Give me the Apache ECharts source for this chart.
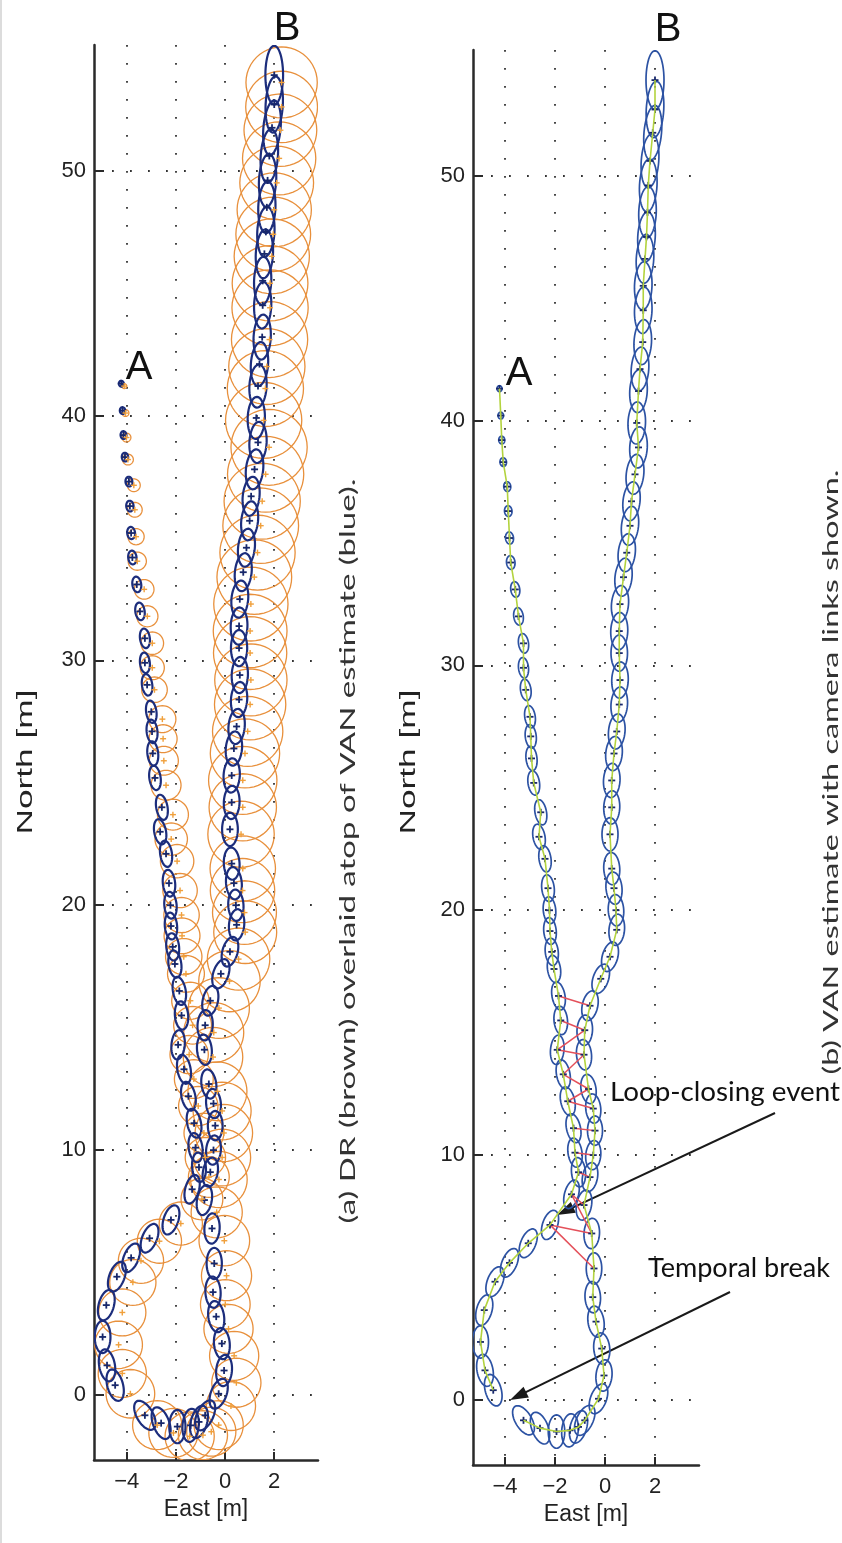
<!DOCTYPE html>
<html><head><meta charset="utf-8">
<script src="https://cdn.jsdelivr.net/npm/echarts@6/dist/echarts.min.js"></script>
<style>html,body{margin:0;padding:0;background:#fff}#c{width:842px;height:1543px}</style>
</head><body><div id="c"></div>
<script>
// ---- VAN estimate (path from A, south, loop, then north to B) ----
const vanX = [-4.22,-4.17,-4.13,-4.07,-3.91,-3.87,-3.82,-3.77,-3.59,-3.46,
 -3.26,-3.26,-3.17,-3.00,-2.97,-2.94,-2.85,-2.57,-2.64,-2.40,
 -2.28,-2.22,-2.20,-2.13,-2.04,-1.86,-1.77,-1.91,-1.67,-1.49,
 -1.26,-1.20,-1.06,-1.34,-2.20,-3.07,-3.82,-4.40,-4.83,-4.98,
 -4.80,-4.47,-3.26,-2.60,-1.94,-1.40,-1.06,-0.81,-0.26,-0.04,
 -0.13,-0.36,-0.49,-0.44,-0.53,-0.84,-0.60,-0.47,-0.40,-0.47,
 -0.66,-0.84,-0.81,-0.60,-0.17,0.20,0.47,0.44,0.36,0.27,
 0.20,0.27,0.27,0.36,0.47,0.57,0.60,0.57,0.57,0.60,
 0.74,0.87,1.00,1.06,1.20,1.34,1.27,1.34,1.40,1.51,
 1.53,1.53,1.60,1.66,1.70,1.73,1.80,1.91,2.00,2.00];
const vanY = [41.3,40.2,39.2,38.3,37.3,36.3,35.2,34.2,33.1,32.0,
 30.9,29.9,29.0,27.9,27.1,26.2,25.2,24.0,23.0,22.1,
 20.9,20.0,19.15,18.3,17.6,16.5,15.5,14.3,13.3,12.2,
 11.1,10.1,9.3,8.4,7.15,6.4,5.6,4.83,3.67,2.37,
 1.21,0.4,-0.83,-1.15,-1.29,-1.24,-1.10,-0.83,0.05,1.0,
 2.1,3.2,4.2,5.37,6.8,7.96,9.1,10.0,11.0,11.9,
 12.7,14.1,15.1,16.1,17.2,18.1,19.2,20.0,20.9,21.7,
 23.1,24.2,25.3,26.4,27.3,28.4,29.4,30.5,31.4,32.5,
 33.6,34.6,35.7,36.7,37.8,38.9,39.9,41.2,42.1,43.2,
 44.5,45.5,46.6,47.5,48.5,49.6,50.6,51.75,52.7,53.9];
// covariance ellipse semi-axes [m] and tilt [deg, + = top toward east]
const semiMajor = [0.12,0.14,0.16,0.18,0.2,0.22,0.25,0.28,0.32,0.36,
 0.4,0.42,0.44,0.46,0.48,0.5,0.5,0.52,0.52,0.54,
 0.55,0.55,0.55,0.56,0.56,0.58,0.58,0.6,0.6,0.6,
 0.6,0.6,0.6,0.6,0.62,0.62,0.62,0.64,0.64,0.66,
 0.66,0.66,0.66,0.68,0.68,0.68,0.68,0.66,0.64,0.64,
 0.64,0.64,0.64,0.64,0.62,0.62,0.6,0.6,0.6,0.6,
 0.6,0.62,0.62,0.62,0.62,0.62,0.64,0.64,0.66,0.66,
 0.68,0.68,0.7,0.7,0.72,0.72,0.74,0.74,0.76,0.76,
 0.78,0.78,0.8,0.8,0.82,0.84,0.86,0.88,0.9,0.92,
 0.95,0.98,1.0,1.02,1.05,1.08,1.1,1.12,1.15,1.2];
const semiMinor = [0.1,0.11,0.12,0.13,0.14,0.15,0.16,0.17,0.18,0.19,
 0.2,0.2,0.21,0.21,0.22,0.22,0.23,0.23,0.24,0.24,
 0.25,0.25,0.25,0.26,0.26,0.26,0.27,0.27,0.27,0.28,
 0.28,0.28,0.28,0.28,0.3,0.3,0.3,0.31,0.31,0.32,
 0.32,0.32,0.33,0.33,0.33,0.33,0.33,0.33,0.32,0.32,
 0.32,0.32,0.31,0.31,0.31,0.3,0.3,0.3,0.3,0.3,
 0.3,0.3,0.31,0.31,0.31,0.31,0.31,0.31,0.32,0.32,
 0.32,0.32,0.33,0.33,0.33,0.33,0.33,0.33,0.34,0.34,
 0.34,0.34,0.34,0.34,0.35,0.35,0.35,0.35,0.35,0.35,
 0.35,0.35,0.35,0.35,0.35,0.35,0.35,0.35,0.35,0.36];
const tiltDeg = [-3,-3,-4,-5,-5,-5,-6,-6,-8,-8,
 -8,-6,-8,-8,-6,-6,-8,-10,-10,-8,
 -6,-5,-5,-6,-8,-10,-5,5,-10,-12,
 -12,-8,-5,15,18,22,22,20,15,0,
 -10,-15,-30,-20,0,5,15,25,20,5,
 -5,-8,-3,0,3,10,10,5,0,-5,
 -8,-5,3,12,18,15,5,-3,-5,-3,
 0,2,3,5,5,4,2,0,2,5,
 6,6,6,6,6,3,2,3,4,3,
 2,2,3,3,2,3,4,5,3,0];
// ---- DR (dead reckoning) estimate and its uncertainty radius [m] ----
const drX = [-4.10,-4.05,-4.01,-3.95,-3.71,-3.67,-3.62,-3.57,-3.29,-3.16,
 -2.96,-2.96,-2.87,-2.55,-2.52,-2.49,-2.40,-2.12,-2.19,-1.95,
 -1.83,-1.77,-1.75,-1.68,-1.59,-1.41,-1.32,-1.46,-1.27,-1.09,
 -0.86,-0.80,-0.66,-0.94,-1.80,-2.67,-3.42,-3.75,-4.18,-4.33,
 -4.18,-3.85,-2.76,-2.10,-1.44,-0.90,-0.56,-0.26,0.24,0.46,
 0.37,0.14,0.01,0.06,-0.03,-0.34,-0.25,-0.12,-0.05,-0.12,
 -0.31,-0.49,-0.46,-0.25,0.18,0.55,0.82,0.79,0.71,0.72,
 0.65,0.72,0.72,0.81,0.92,1.02,1.05,1.02,1.02,1.05,
 1.19,1.32,1.45,1.51,1.65,1.79,1.57,1.64,1.70,1.81,
 1.83,1.83,1.90,1.96,2.00,2.10,2.20,2.25,2.30,2.30];
const drY = [41.2,40.1,39.1,38.2,37.15,36.15,35.05,34.05,32.9,31.8,
 30.7,29.7,28.8,27.6,26.8,25.9,24.9,23.7,22.7,21.8,
 20.6,19.6,18.75,17.9,17.2,16.1,15.1,13.9,12.9,11.8,
 10.7,9.7,8.9,8.0,7.0,6.28,5.48,4.6,3.37,2.05,
 0.88,0.05,-1.23,-1.55,-1.69,-1.64,-1.50,-1.23,-0.45,0.5,
 1.6,2.7,3.7,4.87,6.3,7.46,8.8,9.7,10.7,11.6,
 12.4,13.8,14.8,15.8,16.9,17.8,18.9,19.7,20.6,21.5,
 22.9,24.0,25.1,26.2,27.1,28.2,29.2,30.3,31.2,32.3,
 33.4,34.4,35.5,36.5,37.6,38.7,39.8,41.1,42.0,43.1,
 44.4,45.4,46.5,47.4,48.4,49.5,50.5,51.65,52.6,53.6];
const drRadius = [0.1,0.14,0.18,0.22,0.26,0.3,0.33,0.37,0.4,0.43,
 0.46,0.49,0.52,0.55,0.57,0.59,0.61,0.63,0.66,0.68,
 0.7,0.72,0.73,0.74,0.75,0.76,0.77,0.78,0.79,0.8,
 0.81,0.82,0.83,0.85,0.88,0.9,0.92,0.94,0.96,0.97,
 0.98,0.99,1.0,1.0,1.0,1.0,1.0,1.0,1.0,1.0,
 1.0,1.0,1.01,1.02,1.03,1.04,1.15,1.16,1.17,1.18,
 1.2,1.21,1.22,1.24,1.25,1.27,1.28,1.3,1.31,1.33,
 1.35,1.37,1.39,1.41,1.43,1.45,1.47,1.49,1.5,1.51,
 1.52,1.53,1.54,1.55,1.55,1.55,1.55,1.55,1.55,1.55,
 1.55,1.54,1.53,1.52,1.51,1.5,1.49,1.48,1.46,1.45];
// camera links (index pairs) and temporal break (after index)
const linkPairs = [[25,63],[26,62],[27,62],[27,61],[28,61],[28,60],[29,60],[29,59],[30,58],[31,57],[32,56],[33,55],[33,54],[34,54],[34,53]];
const breakAfter = 41;
// axis ticks
const xTicks = [-4,-2,0,2];
const yTicks = [0,10,20,30,40,50];

// ---------- helpers ----------
function measure(text, font){const c=document.createElement('canvas').getContext('2d');c.font=font;return c.measureText(text).width;}
function ellipseRender(color,width){
  return function(params,api){
    const c=api.coord([api.value(0),api.value(1)]);
    const s=api.size([1,1]);
    const a=api.value(2), b=api.value(3), t=api.value(4)*Math.PI/180;
    const pts=[];
    for(let k=0;k<48;k++){
      const ang=k/48*2*Math.PI;
      const u=b*Math.cos(ang), v=a*Math.sin(ang);
      const e=u*Math.cos(t)+v*Math.sin(t);
      const n=-u*Math.sin(t)+v*Math.cos(t);
      pts.push([c[0]+e*s[0], c[1]-n*s[1]]);
    }
    return {type:'polygon',shape:{points:pts},style:{fill:'none',stroke:color,lineWidth:width}};
  };
}
function plusRender(color,arm,w){
  return function(params,api){
    const c=api.coord([api.value(0),api.value(1)]);
    return {type:'group',children:[
      {type:'line',shape:{x1:c[0]-arm,y1:c[1],x2:c[0]+arm,y2:c[1]},style:{stroke:color,lineWidth:w}},
      {type:'line',shape:{x1:c[0],y1:c[1]-arm,x2:c[0],y2:c[1]+arm},style:{stroke:color,lineWidth:w}}]};
  };
}
function linkRender(color,w){
  return function(params,api){
    const p1=api.coord([api.value(0),api.value(1)]), p2=api.coord([api.value(2),api.value(3)]);
    return {type:'line',shape:{x1:p1[0],y1:p1[1],x2:p2[0],y2:p2[1]},style:{stroke:color,lineWidth:w}};
  };
}
const vanEll = vanX.map((x,i)=>[x,vanY[i],semiMajor[i],semiMinor[i],tiltDeg[i]]);
const drCirc = drX.map((x,i)=>[x,drY[i],drRadius[i],drRadius[i],0]);
const vanPts = vanX.map((x,i)=>[x,vanY[i]]);
const drPts = drX.map((x,i)=>[x,drY[i]]);
const pathLine = [];
vanPts.forEach((p,i)=>{pathLine.push(p); if(i===breakAfter) pathLine.push('-');});
const linkData = linkPairs.map(([i,j])=>[vanX[i],vanY[i],vanX[j],vanY[j]]);

const axisCol='#2a2a2a';
const tickFont={fontFamily:'Liberation Sans',fontSize:22,color:'#222'};
function fmtX(v){ if(!xTicks.some(t=>Math.abs(t-v)<1e-6)) return ''; return v<0?'\u2212'+Math.abs(v):String(v);}
function fmtY(v){ if(!yTicks.some(t=>Math.abs(t-v)<1e-6)) return ''; return String(v);}
const gridLine={show:true,showMinLine:true,showMaxLine:true,lineStyle:{type:[1.8,16.2],color:'#333',width:1.8}};
function xAxisDef(gi,min,max){
  return {gridIndex:gi,type:'value',min:min,max:max,minInterval:2,maxInterval:2,
    name:'East [m]',nameLocation:'middle',nameGap:33,
    nameTextStyle:{fontFamily:'Liberation Sans',fontSize:23,color:'#222'},
    axisLine:{show:true,onZero:false,lineStyle:{color:axisCol,width:2.5}},
    axisTick:{show:true,inside:true,length:8,customValues:xTicks,lineStyle:{color:axisCol,width:2}},
    axisLabel:Object.assign({margin:11,formatter:fmtX,customValues:xTicks},tickFont),
    splitLine:gridLine};
}
function yAxisDef(gi){
  return {gridIndex:gi,type:'value',min:-2.655,max:55.13,minInterval:10,maxInterval:10,
    axisLine:{show:true,onZero:false,lineStyle:{color:axisCol,width:2.5}},
    axisTick:{show:true,inside:true,length:10,customValues:yTicks,lineStyle:{color:axisCol,width:2}},
    axisLabel:Object.assign({margin:8,formatter:fmtY,customValues:yTicks},tickFont),
    splitLine:gridLine};
}

// texts
const capFont='"Lato"';
function scaledVText(text,x,y,size,family,target,fill){
  const w=measure(text,size+'px '+family);
  return {type:'text',x:x,y:y,rotation:Math.PI/2,scaleX:target/w,scaleY:1,
    style:{text:text,font:size+'px '+family,fill:fill,textAlign:'center',align:'center',textVerticalAlign:'middle',verticalAlign:'middle'}};
}
function hText(text,x,y,font,align){
  return {type:'text',x:x,y:y,style:{text:text,font:font,fill:'#111',textAlign:align,align:align,textVerticalAlign:'middle',verticalAlign:'middle'}};
}
function arrow(tx,ty,hx,hy){
  const dx=hx-tx, dy=hy-ty, L=Math.hypot(dx,dy), ux=dx/L, uy=dy/L, px=-uy, py=ux;
  const al=18, aw=6;
  return [
    {type:'line',shape:{x1:tx,y1:ty,x2:hx-ux*al*0.7,y2:hy-uy*al*0.7},style:{stroke:'#1a1a1a',lineWidth:2}},
    {type:'polygon',shape:{points:[[hx,hy],[hx-ux*al+px*aw,hy-uy*al+py*aw],[hx-ux*al-px*aw,hy-uy*al-py*aw]]},style:{fill:'#1a1a1a'}}
  ];
}
const annFamily='"Lato"';
const loopSize = 25*230/measure('Loop-closing event','25px '+annFamily);
const tempSize = 25*182/measure('Temporal break','25px '+annFamily);

const graphics = [
  {type:'rect',shape:{x:0,y:0,width:2,height:1543},style:{fill:'#dcdcdc'}},
  hText('A',139,368,'40px "Liberation Sans"','center'),
  hText('B',287,29,'40px "Liberation Sans"','center'),
  hText('A',519,374,'40px "Liberation Sans"','center'),
  hText('B',668,30,'40px "Liberation Sans"','center'),
  scaledVText('North [m]',26,762,22,'"Liberation Sans"',145,'#222'),
  scaledVText('North [m]',409,762,22,'"Liberation Sans"',145,'#222'),
  scaledVText('(a) DR (brown) overlaid atop of VAN estimate (blue).',348,851,21,capFont,745,'#333'),
  scaledVText('(b) VAN estimate with camera links shown.',831,772,21,capFont,605,'#333'),
  hText('Loop-closing event',610,1092,loopSize+'px '+annFamily,'left'),
  hText('Temporal break',648,1268,tempSize+'px '+annFamily,'left')
].concat(arrow(775,1113,557,1215)).concat(arrow(730,1292,510,1400));

const chart = echarts.init(document.getElementById('c'),null,{renderer:'canvas'});
chart.setOption({
  animation:false,
  backgroundColor:'#ffffff',
  grid:[{left:94,top:45,width:224,height:1415},{left:473,top:50,width:226,height:1415}],
  xAxis:[xAxisDef(0,-5.33,3.78),xAxisDef(1,-5.28,3.76)],
  yAxis:[yAxisDef(0),yAxisDef(1)],
  series:[
    {type:'custom',xAxisIndex:0,yAxisIndex:0,clip:true,data:drCirc,encode:{x:0,y:1},renderItem:ellipseRender('#e8903c',1.3),silent:true},
    {type:'custom',xAxisIndex:0,yAxisIndex:0,clip:true,data:vanEll,encode:{x:0,y:1},renderItem:ellipseRender('#1c2d7c',2.2),silent:true},
    {type:'custom',xAxisIndex:0,yAxisIndex:0,clip:true,data:vanPts,encode:{x:0,y:1},renderItem:plusRender('#17276a',3.5,1.8),silent:true},
    {type:'custom',xAxisIndex:0,yAxisIndex:0,clip:true,data:drPts,encode:{x:0,y:1},renderItem:plusRender('#f0a03c',3,1.4),silent:true},
    {type:'custom',xAxisIndex:1,yAxisIndex:1,clip:true,data:vanEll,encode:{x:0,y:1},renderItem:ellipseRender('#2c52a3',1.7),silent:true},
    {type:'line',xAxisIndex:1,yAxisIndex:1,data:pathLine,showSymbol:false,connectNulls:false,lineStyle:{color:'#b3d33e',width:1.6},silent:true},
    {type:'custom',xAxisIndex:1,yAxisIndex:1,clip:true,data:linkData,encode:{x:[0,2],y:[1,3]},renderItem:linkRender('#e4505a',1.5),silent:true},
    {type:'custom',xAxisIndex:1,yAxisIndex:1,clip:true,data:vanPts,encode:{x:0,y:1},renderItem:plusRender('#17276a',3.5,1.8),silent:true}
  ],
  graphic:graphics
});
</script></body></html>
